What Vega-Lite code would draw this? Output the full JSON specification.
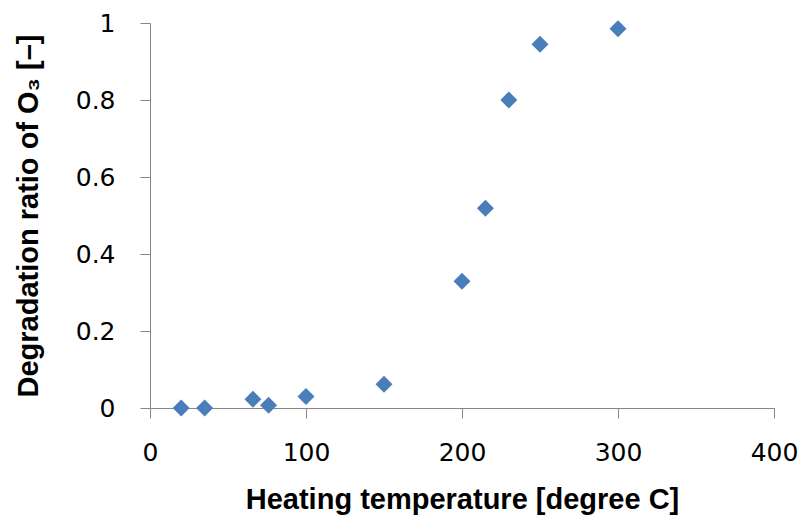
{
  "$schema": "https://vega.github.io/schema/vega-lite/v6.json",
  "autosize": {"type": "none"},
  "width": 624,
  "height": 385,
  "padding": {"left": 150, "top": 23, "right": 30, "bottom": 113},
  "background": "white",
  "config": {"view": {"stroke": null}},
  "data": {
    "values": [
      {"temp": 20, "ratio": 0.0},
      {"temp": 35, "ratio": 0.0},
      {"temp": 66, "ratio": 0.023},
      {"temp": 76, "ratio": 0.007},
      {"temp": 100, "ratio": 0.03},
      {"temp": 150, "ratio": 0.062},
      {"temp": 200, "ratio": 0.329},
      {"temp": 215, "ratio": 0.519},
      {"temp": 230, "ratio": 0.80},
      {"temp": 250, "ratio": 0.945},
      {"temp": 300, "ratio": 0.985}
    ]
  },
  "mark": {"type": "point", "shape": "diamond", "filled": true, "size": 289, "color": "#4A7EBB", "opacity": 1},
  "encoding": {
    "x": {
      "field": "temp", "type": "quantitative",
      "scale": {"domain": [0, 400], "nice": false, "zero": true},
      "axis": {
        "title": "Heating temperature [degree C]",
        "values": [0, 100, 200, 300, 400],
        "grid": false,
        "domainColor": "#868686", "tickColor": "#868686", "tickSize": 10,
        "labelFont": "DejaVu Sans", "labelFontSize": 25, "labelColor": "#000000",
        "labelPadding": 22, "labelFlush": false,
        "titleFont": "Liberation Sans", "titleFontWeight": "bold", "titleFontSize": 29,
        "titleColor": "#000000", "titlePadding": 20
      }
    },
    "y": {
      "field": "ratio", "type": "quantitative",
      "scale": {"domain": [0, 1], "nice": false},
      "axis": {
        "title": "Degradation ratio of O₃ [–]",
        "values": [0, 0.2, 0.4, 0.6, 0.8, 1],
        "format": "~g",
        "grid": false,
        "domainColor": "#868686", "tickColor": "#868686", "tickSize": 10,
        "labelFont": "DejaVu Sans", "labelFontSize": 25, "labelColor": "#000000",
        "labelPadding": 25, "labelFlush": false,
        "titleFont": "Liberation Sans", "titleFontWeight": "bold", "titleFontSize": 29,
        "titleColor": "#000000", "titlePadding": 32
      }
    }
  }
}
